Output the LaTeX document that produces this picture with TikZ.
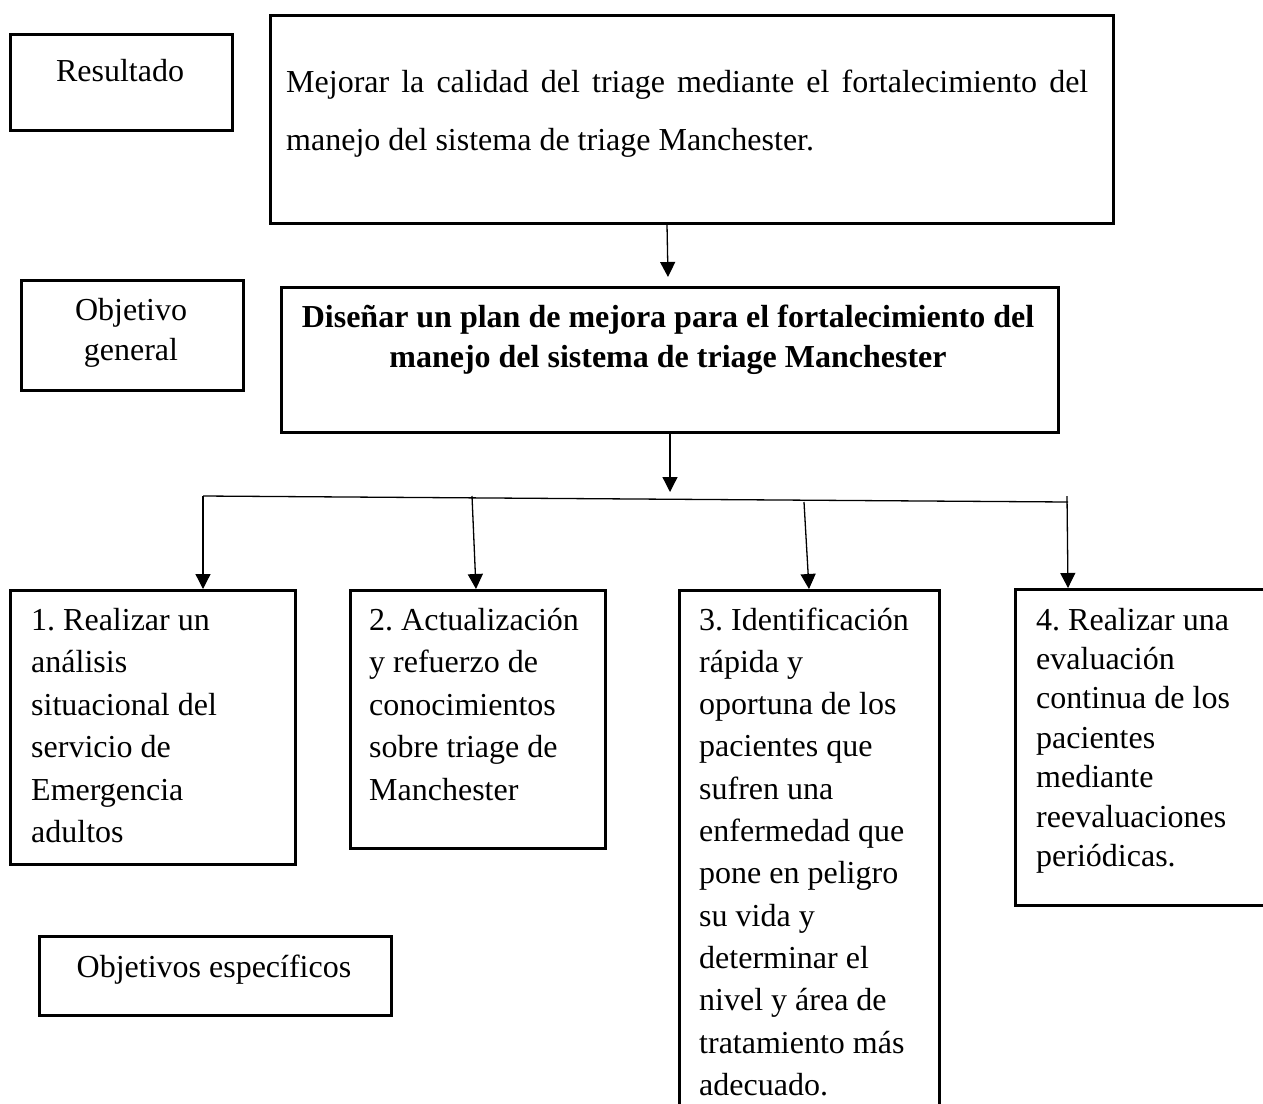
\documentclass[tikz,border=0pt]{standalone}
\usepackage{fontspec}
\setmainfont{Liberation Serif}
\usetikzlibrary{arrows.meta}
\frenchspacing
\newcommand{\txtL}[3]{\parbox[t]{#1}{\raggedright\frenchspacing\fontsize{32}{#2}\selectfont #3}}
\newcommand{\txtC}[2]{\parbox[t]{900pt}{\centering\frenchspacing\fontsize{32}{#1}\selectfont #2}}
\tikzset{
  box/.style={draw, line width=2.6pt, inner sep=0pt, anchor=north west},
  lbl/.style={inner sep=0pt, anchor=base west},
  clbl/.style={inner sep=0pt, anchor=base},
  conn/.style={line width=1.3pt},
  arr/.style={conn, -{Triangle[length=15pt,width=15pt]}}
}
\begin{document}
\begin{tikzpicture}[x=1pt,y=-1pt]
\useasboundingbox (0,0) rectangle (1263,1103);
\fill[white] (0,0) rectangle (1263,1103);
\clip (0,0) rectangle (1263,1103);
% boxes
\node[box, minimum width=222pt, minimum height=96pt] (res) at (9,33) {};
\node[box, minimum width=843pt, minimum height=208pt] (main1) at (269,14) {};
\node[box, minimum width=222pt, minimum height=110pt] (gen) at (20,279) {};
\node[box, minimum width=777pt, minimum height=145pt] (main2) at (280,286) {};
\node[box, minimum width=285pt, minimum height=274pt] (b1) at (9,589) {};
\node[box, minimum width=255pt, minimum height=258pt] (b2) at (349,589) {};
\node[box, minimum width=260pt, minimum height=540pt] (b3) at (678,589) {};
\node[box, minimum width=270pt, minimum height=316pt] (b4) at (1014,588) {};
\node[box, minimum width=352pt, minimum height=79pt] (esp) at (38,935) {};
% texts
\node[clbl] (tres) at (120,81) {\txtC{40}{Resultado}};
\node[lbl] (tmain1) at (286,92) {\txtL{820pt}{58}{\makebox[802pt][s]{Mejorar la calidad del triage mediante el fortalecimiento del}\\manejo del sistema de triage Manchester.}};
\node[clbl] (tgen) at (131,320) {\txtC{40}{Objetivo\\general}};
\node[clbl] (tmain2) at (668,327) {\txtC{40}{\bfseries Diseñar un plan de mejora para el fortalecimiento del\\manejo del sistema de triage Manchester}};
\node[lbl] (tb1) at (31,630) {\txtL{400pt}{42.5}{1. Realizar un\\análisis\\situacional del\\servicio de\\Emergencia\\adultos}};
\node[lbl] (tb2) at (369,630) {\txtL{400pt}{42.5}{2. Actualización\\y refuerzo de\\conocimientos\\sobre triage de\\Manchester}};
\node[lbl] (tb3) at (699,630) {\txtL{400pt}{42.3}{3. Identificación\\rápida y\\oportuna de los\\pacientes que\\sufren una\\enfermedad que\\pone en peligro\\su vida y\\determinar el\\nivel y área de\\tratamiento más\\adecuado.}};
\node[lbl] (tb4) at (1036,630) {\txtL{400pt}{39.4}{4. Realizar una\\evaluación\\continua de los\\pacientes\\mediante\\reevaluaciones\\periódicas.}};
\node[clbl] (tesp) at (214,977) {\txtC{40}{Objetivos específicos}};
% connectors
\coordinate (a1e) at (668,277);
\coordinate (a2s) at (670,433);
\coordinate (a2e) at (670,492);
\coordinate (hl) at (203,496);
\coordinate (hr) at (1068,502);
\coordinate (k2) at (472,496);
\coordinate (k3) at (804,502);
\coordinate (k4) at (1067,496);
\draw[arr] (main1.south -| 667,0) -- (a1e);
\draw[arr] (main2.south -| a2s) -- (a2e);
\draw[conn] (hl) -- (hr);
\draw[arr] (hl) -- (b1.north -| hl);
\draw[arr] (k2) -- (b2.north -| 476,0);
\draw[arr] (k3) -- (b3.north -| 809,0);
\draw[arr] (k4) -- (b4.north -| 1068,0);
\end{tikzpicture}
\end{document}
